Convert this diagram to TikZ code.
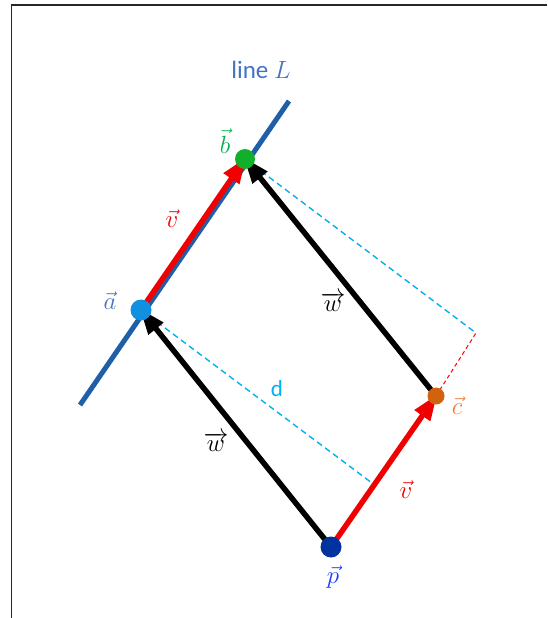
\documentclass[tikz,border=0pt]{standalone}
\usepackage{fontspec}
\setmainfont{Carlito}
\usetikzlibrary{arrows.meta}
\definecolor{lineL}{HTML}{1F5FA8}
\definecolor{lblue}{HTML}{4472C4}
\definecolor{pblue}{HTML}{1A3CFF}
\definecolor{gr}{HTML}{00B050}
\definecolor{orng}{HTML}{ED7D31}
\definecolor{cyn}{HTML}{00B0F0}
\definecolor{vred}{HTML}{F00000}
\definecolor{dotp}{HTML}{0032A0}
\definecolor{dota}{HTML}{1190E0}
\definecolor{dotb}{HTML}{12B02A}
\definecolor{dotc}{HTML}{D2620E}
\tikzset{
  vecarrow/.style={line width=5.5pt, -{Triangle[length=26pt,width=18pt]}, shorten >=-2pt},
  dashcyan/.style={cyn, dashed, dash pattern=on 6pt off 4pt, line width=1.4pt},
  dashred/.style={red, dashed, dash pattern=on 4pt off 3pt, line width=1pt},
  dot/.style={circle, inner sep=0pt, minimum size=#1},
  lbl/.style={font=\fontsize{23}{27}\selectfont}
}
\begin{document}
\begin{tikzpicture}[x=1pt,y=-1pt]
\useasboundingbox (0,0) rectangle (547,618);
% frame
\draw[line width=1.5pt, black!85] (11.5,620) -- (11.5,5) -- (547,5);
% points
\coordinate (p) at (331,547);
\coordinate (c) at (436,396);
\coordinate (a) at (141,310);
\coordinate (b) at (245,159);
\coordinate (L1) at (80,405);
\coordinate (L2) at (289,101);
\coordinate (e) at (476,333);
\coordinate (f) at (372,483);
% line L
\draw[lineL, line width=5pt] (L1) -- (L2);
% dashed lines
\draw[dashcyan] (b) -- (e);
\draw[dashcyan] (a) -- (f);
\draw[dashred] (c) -- (e);
% vectors
\draw[vecarrow, black] (p) -- (a);
\draw[vecarrow, black] (c) -- (b);
\draw[vecarrow, vred] (a) -- (b);
\draw[vecarrow, vred] (p) -- (c);
% dots
\node[dot=21pt, fill=dotp] (P) at (p) {};
\node[dot=17pt, fill=dotc] (C) at (c) {};
\node[dot=21pt, fill=dota] (A) at (a) {};
\node[dot=20pt, fill=dotb] (B) at (b) {};
% labels
\node[lblue, font=\fontsize{25}{29}\selectfont] (tL) at (261,70) {line $L$};
\node[lbl, gr] (tb) at (225,141) {$\vec{b}$};
\node[lbl, vred] (tv1) at (172,219) {$\vec{v}$};
\node[lbl, lblue] (ta) at (110,301) {$\vec{a}$};
\node[lbl, black] (tw1) at (333,302) {$\overrightarrow{w}$};
\node[cyn, font=\fontsize{23}{27}\selectfont] (td) at (277,389) {d};
\node[lbl, orng] (tc) at (457,406) {$\vec{c}$};
\node[lbl, black] (tw2) at (216,442) {$\overrightarrow{w}$};
\node[lbl, vred] (tv2) at (406,490) {$\vec{v}$};
\node[lbl, pblue] (tp) at (333,577) {$\vec{p}$};
\end{tikzpicture}
\end{document}
